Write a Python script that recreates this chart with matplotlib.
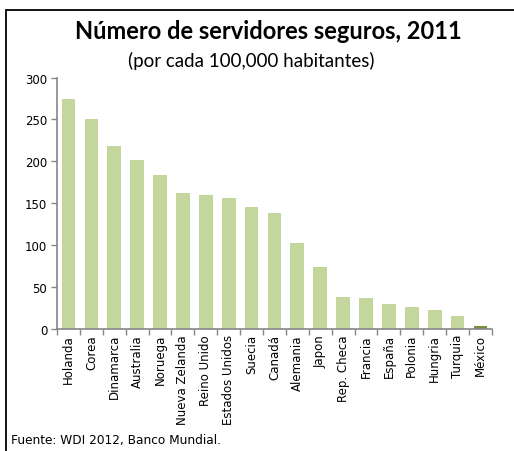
import matplotlib
matplotlib.use('Agg')
import matplotlib.pyplot as plt
from matplotlib.patches import Rectangle

paises = ['Holanda', 'Corea', 'Dinamarca', 'Australia', 'Noruega', 'Nueva Zelanda',
          'Reino Unido', 'Estados Unidos', 'Suecia', 'Canadá', 'Alemania', 'Japon',
          'Rep. Checa', 'Francia', 'España', 'Polonia', 'Hungria', 'Turquia', 'México']
servidores = [275, 251, 218, 202, 183, 161.5, 159.5, 156.5, 145, 138, 102.5, 74,
              38, 36, 29, 26, 22, 15, 2.5]
yticks = [0, 50, 100, 150, 200, 250, 300]

verde = '#C3D69B'
verde_mx = '#76923C'
gris = '#868686'
colores = [verde_mx if p == 'México' else verde for p in paises]

fig = plt.figure(figsize=(5.14, 4.52), dpi=100)
ax = fig.add_axes([0.111, 0.271, 0.846, 0.555])

x = list(range(len(paises)))
ax.bar(x, servidores, width=0.6, color=colores, edgecolor='none')

ax.set_xlim(-0.5, len(paises) - 0.5)
ax.set_ylim(0, 300)
ax.set_yticks(yticks)
ax.set_yticklabels([str(v) for v in yticks], fontsize=8.5)
ax.set_xticks(x)
ax.set_xticklabels(paises, rotation=90, fontsize=8.5)
ax.tick_params(axis='x', which='major', length=0, pad=4)
ax.set_xticks([i - 0.5 for i in range(len(paises) + 1)], minor=True)
ax.tick_params(axis='x', which='minor', length=4, color=gris, width=1)
ax.tick_params(axis='y', length=4, color=gris, width=1, pad=3)

for s in ['top', 'right']:
    ax.spines[s].set_visible(False)
for s in ['left', 'bottom']:
    ax.spines[s].set_color(gris)
    ax.spines[s].set_linewidth(1.2)

fig.text(0.523, 0.930, 'Número de servidores seguros, 2011', ha='center', va='center',
         fontsize=17, fontweight='bold', family='Lato')
fig.text(0.488, 0.865, '(por cada 100,000 habitantes)', ha='center', va='center',
         fontsize=13.5, family='Lato')
fig.text(0.022, 0.025, 'Fuente: WDI 2012, Banco Mundial.', ha='left', va='center',
         fontsize=8.7, family='DejaVu Sans')

# marco exterior (recortado a la derecha y abajo como en el original)
fig.patches.append(Rectangle((0.0117, -0.05), 1.2, 1.0257, transform=fig.transFigure,
                             fill=False, edgecolor='black', linewidth=1.3))

fig.savefig('out.png', dpi=100)
